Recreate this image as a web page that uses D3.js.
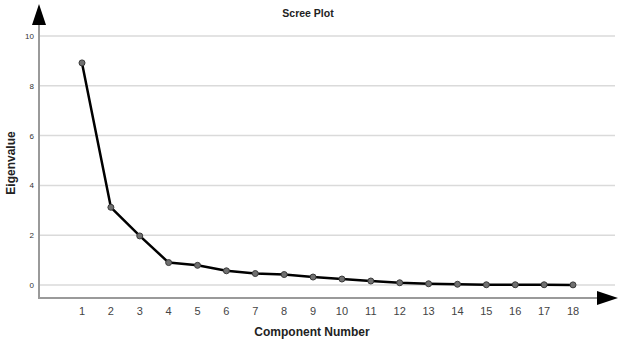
<!DOCTYPE html>
<html>
<head>
<meta charset="utf-8">
<script src="https://cdn.jsdelivr.net/npm/d3@7"></script>
<style>
  body { margin: 0; background: #fff; }
  text { font-family: Arial, "Liberation Sans", sans-serif; }
</style>
</head>
<body>
<div id="chart"></div>
<script>
var chartTitle = 'Scree Plot'
var xAxisLabel = 'Component Number'
var yAxisLabel = 'Eigenvalue'

var components = [1,2,3,4,5,6,7,8,9,10,11,12,13,14,15,16,17,18]
var eigenvalues = [8.92,3.12,1.97,0.90,0.79,0.57,0.46,0.42,0.32,0.24,0.16,0.09,0.05,0.03,0.01,0.01,0.01,0.005]
var yTicks = [0,2,4,6,8,10]

var width = 623, height = 342;

var svg = d3.select('#chart')
    .append('svg')
    .attr('width', width)
    .attr('height', height);

var xScale = d3.scaleLinear().domain([1,18]).range([82,573]);
var yScale = d3.scaleLinear().domain([0,10]).range([285,36]);

var axisX = 39, axisY = 298;

// gridlines
svg.append('g')
    .selectAll('line')
    .data(yTicks)
    .enter()
    .append('line')
    .attr('x1', axisX)
    .attr('x2', 615)
    .attr('y1', function(d) { return yScale(d); })
    .attr('y2', function(d) { return yScale(d); })
    .attr('stroke', '#dadada')
    .attr('stroke-width', 1.5);

// y tick labels
svg.append('g')
    .selectAll('text')
    .data(yTicks)
    .enter()
    .append('text')
    .attr('x', 34)
    .attr('y', function(d) { return yScale(d) + 3; })
    .attr('text-anchor', 'end')
    .attr('font-size', '8px')
    .attr('fill', '#333')
    .text(function(d) { return d; });

// x tick labels
svg.append('g')
    .selectAll('text')
    .data(components)
    .enter()
    .append('text')
    .attr('x', function(d) { return xScale(d); })
    .attr('y', 315)
    .attr('text-anchor', 'middle')
    .attr('font-size', '11px')
    .attr('fill', '#444')
    .text(function(d) { return d; });

// axes
svg.append('line')
    .attr('x1', axisX).attr('y1', 20)
    .attr('x2', axisX).attr('y2', axisY + 1)
    .attr('stroke', '#9a9a9a')
    .attr('stroke-width', 2);
svg.append('line')
    .attr('x1', axisX - 1).attr('y1', axisY)
    .attr('x2', 600).attr('y2', axisY)
    .attr('stroke', '#9a9a9a')
    .attr('stroke-width', 2);

// arrows
svg.append('polygon')
    .attr('points', axisX + ',4 ' + (axisX - 7) + ',25 ' + (axisX + 7) + ',25')
    .attr('fill', '#000');
svg.append('polygon')
    .attr('points', '618,' + axisY + ' 597,' + (axisY - 7) + ' 597,' + (axisY + 7))
    .attr('fill', '#000');

// line
var line = d3.line()
    .x(function(d, i) { return xScale(components[i]); })
    .y(function(d) { return yScale(d); });

svg.append('path')
    .datum(eigenvalues)
    .attr('d', line)
    .attr('fill', 'none')
    .attr('stroke', '#000')
    .attr('stroke-width', 2.5)
    .attr('stroke-linejoin', 'round');

svg.append('g')
    .selectAll('circle')
    .data(eigenvalues)
    .enter()
    .append('circle')
    .attr('cx', function(d, i) { return xScale(components[i]); })
    .attr('cy', function(d) { return yScale(d); })
    .attr('r', 3)
    .attr('fill', '#707070')
    .attr('stroke', '#3a3a3a')
    .attr('stroke-width', 1);

// titles
svg.append('text')
    .attr('x', 308)
    .attr('y', 17)
    .attr('text-anchor', 'middle')
    .attr('font-size', '10.5px')
    .attr('font-weight', 'bold')
    .attr('fill', '#222')
    .text(chartTitle);

svg.append('text')
    .attr('x', 312)
    .attr('y', 336)
    .attr('text-anchor', 'middle')
    .attr('font-size', '12px')
    .attr('font-weight', 'bold')
    .attr('fill', '#222')
    .text(xAxisLabel);

svg.append('text')
    .attr('transform', 'translate(15,163) rotate(-90)')
    .attr('text-anchor', 'middle')
    .attr('font-size', '12px')
    .attr('font-weight', 'bold')
    .attr('fill', '#222')
    .text(yAxisLabel);
</script>
</body>
</html>
